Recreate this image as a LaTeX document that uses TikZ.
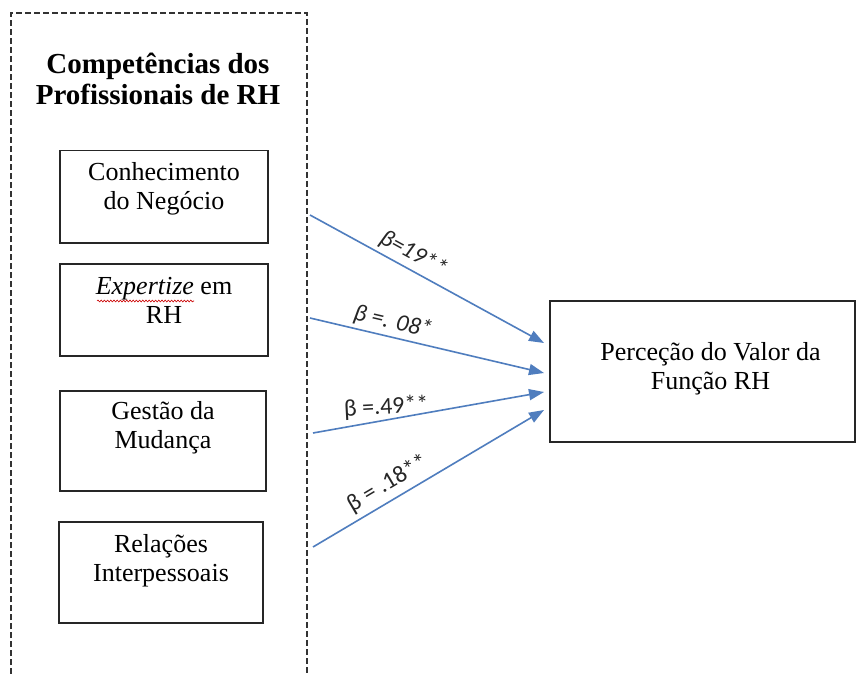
\documentclass[tikz,border=0pt]{standalone}
\usepackage{fontspec}
\setmainfont{Liberation Serif}
\newfontfamily\labfont{Carlito}
\usetikzlibrary{arrows.meta,decorations.pathmorphing}
\definecolor{arrblue}{RGB}{79,125,190}
\newcommand{\bxtext}[4]{\parbox[c][#2][t]{#1}{\centering\rule{0pt}{#3}#4}}
\begin{document}
\begin{tikzpicture}[x=1pt,y=-1pt,
  box/.style={draw=black!85, line width=1.3pt, inner sep=0pt, font=\fontsize{26}{29}\selectfont},
  ttl/.style={inner sep=0pt, font=\fontsize{29}{31}\selectfont\bfseries},
  frame/.style={draw=black!80, line width=1.3pt, dash pattern=on 6pt off 3pt},
  arr/.style={draw=arrblue, line width=1.6pt, -{Triangle[length=15pt,width=11pt]}},
  lbl/.style={inner sep=1pt, text=black!85, font=\labfont\fontsize{24}{26}\selectfont},
  wavy/.style={draw=red!80!black, line width=0.6pt, decorate, decoration={snake, amplitude=0.9pt, segment length=3.2pt}}
]
\useasboundingbox (0,0) rectangle (865,674);
\fill[white] (0,0) rectangle (865,674);

% dashed frame (open at bottom)
\draw[frame] (11,674) -- (11,13) -- (307,13) -- (307,674);

% title
\node[ttl] (title) at (158,80) {\bxtext{300pt}{64pt}{26pt}{Competências dos\\Profissionais de RH}};

% left boxes
\node[box] (b1) at (164,196.75) {\bxtext{208pt}{92.5pt}{30pt}{Conhecimento\\do Negócio}};
\node[box] (b2) at (164,310) {\bxtext{208pt}{92pt}{30.5pt}{\textit{Expertize} em\\RH}};
\node[box] (b3) at (163,441) {\bxtext{206pt}{100pt}{28pt}{Gestão da\\Mudança}};
\node[box] (b4) at (161,572.5) {\bxtext{204pt}{101pt}{30pt}{Relações\\Interpessoais}};

% spell-check underline
\draw[wavy] (97,301) -- (194,301);

% right box
\node[box] (R) at (702.5,371.5) {\bxtext{305pt}{141pt}{59pt}{\hspace*{16pt}Perceção do Valor da\\\hspace*{16pt}Função RH}};

% arrow endpoints
\coordinate (s1) at (310,215);
\coordinate (s2) at (310,318);
\coordinate (s3) at (313,433);
\coordinate (s4) at (313,547);
\coordinate (e1) at (544,343);
\coordinate (e2) at (544,373);
\coordinate (e3) at (544,392);
\coordinate (e4) at (544,410);

\draw[arr] (s1) -- node[lbl, sloped, pos=0.41, above=3pt] {\itshape β=19**} (e1);
\draw[arr] (s2) -- node[lbl, sloped, pos=0.34, above=2.5pt] {\itshape β =. 08*} (e2);
\draw[arr] (s3) -- node[lbl, pos=0.32, above=0pt, rotate=3] {β =.49**} (e3);
\draw[arr] (s4) -- node[lbl, sloped, pos=0.36, above=4pt] {β = .18**} (e4);
\end{tikzpicture}
\end{document}
